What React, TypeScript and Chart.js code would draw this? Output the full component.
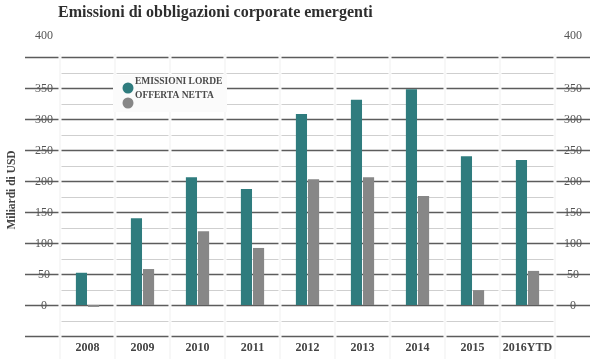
import React, { useEffect, useRef } from 'react';
import { Chart, registerables } from 'chart.js';

Chart.register(...registerables);

const TITLE = 'Emissioni di obbligazioni corporate emergenti';
const Y_TITLE = 'Miliardi di USD';
const CATEGORIES = ['2008', '2009', '2010', '2011', '2012', '2013', '2014', '2015', '2016YTD'];
const SERIES_LABELS = ['EMISSIONI LORDE', 'OFFERTA NETTA'];
const GROSS_ISSUANCE = [52, 140, 206, 187, 308, 331, 348, 240, 234];
const NET_SUPPLY = [-3, 58, 119, 92, 203, 206, 176, 24, 55];
const Y_TICKS = [0, 50, 100, 150, 200, 250, 300, 350, 400];
const Y_MIN = -50;
const Y_MAX = 400;
const Y_MINOR_STEP = 25;

const TEAL = '#2f7c7e';
const GRAY = '#878787';
const SERIF = '"Liberation Serif", "DejaVu Serif", serif';

const decorPlugin = {
  id: 'decor',
  beforeDatasetsDraw(chart: any) {
    const { ctx, chartArea, scales } = chart;
    const y = scales.y;
    const x = scales.x;
    ctx.save();
    for (let v = Y_MIN; v <= Y_MAX; v += Y_MINOR_STEP) {
      const py = Math.round(y.getPixelForValue(v)) + 0.5;
      const major = v % 50 === 0;
      ctx.beginPath();
      if (major) {
        ctx.strokeStyle = '#5c5c5c';
        ctx.lineWidth = 1.6;
        ctx.moveTo(25, py);
        ctx.lineTo(590, py);
      } else {
        ctx.strokeStyle = '#cfcfcf';
        ctx.lineWidth = 1.2;
        ctx.moveTo(chartArea.left, py);
        ctx.lineTo(chartArea.right, py);
      }
      ctx.stroke();
    }
    const n = CATEGORIES.length;
    const bw = (chartArea.right - chartArea.left) / n;
    for (let i = 0; i <= n; i++) {
      const px = i === n ? x.getPixelForValue(n - 1) + bw / 2 : x.getPixelForValue(i) - bw / 2;
      ctx.fillStyle = '#ffffff';
      ctx.fillRect(px - 1.5, chartArea.top - 3, 3, chartArea.bottom - chartArea.top + 6);
      ctx.fillStyle = '#efefef';
      ctx.fillRect(px - 0.5, chartArea.top - 3, 1, chartArea.bottom - chartArea.top + 26);
    }
    ctx.restore();
  },
  afterDraw(chart: any) {
    const { ctx, chartArea, scales } = chart;
    const y = scales.y;
    ctx.save();
    ctx.fillStyle = '#2e2e2e';
    ctx.font = `bold 16px ${SERIF}`;
    ctx.textBaseline = 'middle';
    ctx.textAlign = 'left';
    ctx.fillText(TITLE, 58, 13);
    ctx.font = `12px ${SERIF}`;
    ctx.textAlign = 'center';
    Y_TICKS.forEach((v) => {
      let py = y.getPixelForValue(v);
      if (v === Y_MAX) py -= 22;
      ctx.fillStyle = '#555555';
      ctx.fillText(String(v), 44, py + 1);
      ctx.fillText(String(v), 573, py + 1);
    });
    ctx.save();
    ctx.translate(12, 190);
    ctx.rotate(-Math.PI / 2);
    ctx.font = `bold 11.5px ${SERIF}`;
    ctx.fillStyle = '#444444';
    ctx.textAlign = 'center';
    ctx.fillText(Y_TITLE, 0, 0);
    ctx.restore();
    const lx = chartArea.left + 53;
    const ly = chartArea.top + 18;
    ctx.fillStyle = '#fbfbfb';
    ctx.fillRect(lx, ly, 114, 37);
    chart.data.datasets.forEach((ds: any, i: number) => {
      ctx.fillStyle = ds.backgroundColor;
      ctx.beginPath();
      ctx.arc(lx + 15, ly + 13 + i * 15, 5.5, 0, Math.PI * 2);
      ctx.fill();
      ctx.fillStyle = '#4a4a4a';
      ctx.font = `bold 9.5px ${SERIF}`;
      ctx.textAlign = 'left';
      ctx.fillText(ds.label, lx + 22, ly + 7 + i * 14);
    });
    ctx.restore();
  },
};

export default function App() {
  const ref = useRef<HTMLCanvasElement | null>(null);
  useEffect(() => {
    if (!ref.current) return;
    const chart = new Chart(ref.current, {
      type: 'bar',
      data: {
        labels: CATEGORIES,
        datasets: [
          { label: SERIES_LABELS[0], data: GROSS_ISSUANCE, backgroundColor: TEAL, categoryPercentage: 0.44, barPercentage: 0.92 },
          { label: SERIES_LABELS[1], data: NET_SUPPLY, backgroundColor: GRAY, categoryPercentage: 0.44, barPercentage: 0.92 },
        ],
      },
      options: {
        responsive: false,
        animation: false,
        devicePixelRatio: 1,
        layout: { padding: { left: 60, right: 45, top: 57, bottom: 0 } },
        plugins: { legend: { display: false }, title: { display: false }, tooltip: { enabled: false } },
        scales: {
          x: {
            grid: { display: false, drawTicks: false },
            border: { display: false },
            afterFit: (s: any) => { s.height = 24; },
            ticks: {
              padding: 5,
              maxRotation: 0,
              minRotation: 0,
              autoSkip: false,
              color: '#444444',
              font: { family: SERIF, size: 12, weight: 'bold' },
            },
          },
          y: { display: false, min: Y_MIN, max: Y_MAX },
        },
      },
      plugins: [decorPlugin],
    });
    return () => chart.destroy();
  }, []);
  return (
    <div style={{ position: 'absolute', left: 0, top: 0, width: 600, height: 360, background: '#fff' }}>
      <canvas ref={ref} width={600} height={360} />
    </div>
  );
}
